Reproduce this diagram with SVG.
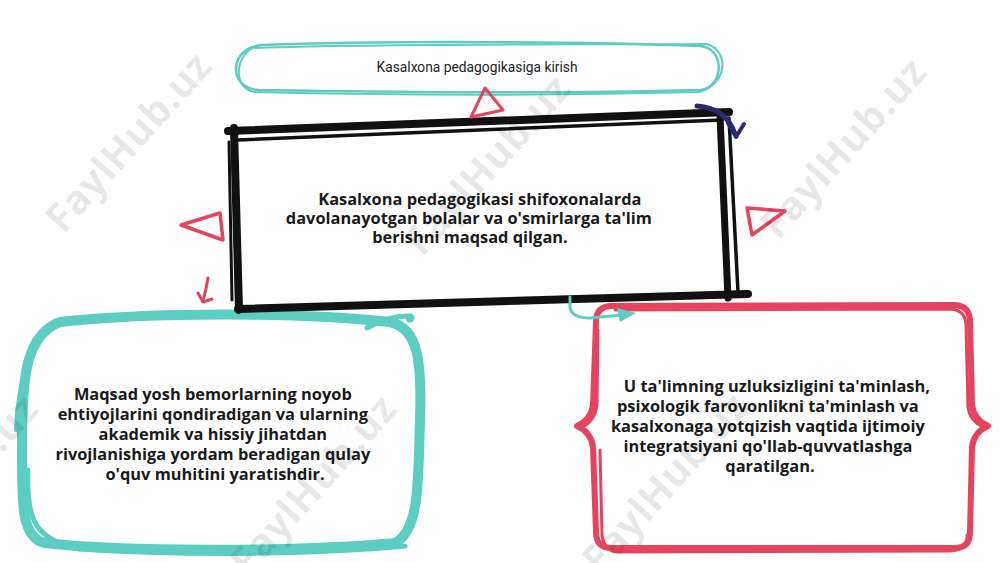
<svg xmlns="http://www.w3.org/2000/svg" width="1000" height="563" viewBox="0 0 1000 563">
<style>
.teal{fill:none;stroke:#5DCDC2;stroke-linecap:round;stroke-linejoin:round}
.red{fill:none;stroke:#E6435F;stroke-linecap:round;stroke-linejoin:round}
.blk{fill:none;stroke:#111;stroke-linecap:round;stroke-linejoin:round}
.navy{fill:none;stroke:#2C2A70;stroke-linecap:round;stroke-linejoin:round}
.body{font-family:"Open Sans","Liberation Sans",sans-serif;font-weight:700;font-size:16.4px;fill:#1a1a1a}
.title{font-family:"Roboto","Liberation Sans",sans-serif;font-size:14px;fill:#222}
.wm{font-family:"Open Sans","Liberation Sans",sans-serif;font-weight:700;font-size:40px;fill:#000;fill-opacity:0.09}
</style>
<rect width="1000" height="563" fill="#fff"/>

<g id="node-left">
<path d="M60,322 C150,312 300,312 390,322 C418,328 422,360 420,420 C418,480 420,530 395,543 C300,552 120,552 45,543 C20,538 22,500 22,440 C22,380 25,335 60,322 Z" fill="#fff" class="teal" stroke-width="10"/>
<path d="M28,470 C26,520 35,540 80,549 C200,557 330,553 405,546" class="teal" stroke-width="5"/>
<path d="M48,330 C30,345 18,380 16,430" class="teal" stroke-width="4"/>
<text class="body" text-anchor="middle">
<tspan x="215" y="400">Maqsad yosh bemorlarning noyob</tspan>
<tspan x="215" y="420">ehtiyojlarini qondiradigan va ularning</tspan>
<tspan x="215" y="440">akademik va hissiy jihatdan</tspan>
<tspan x="215" y="460">rivojlanishiga yordam beradigan qulay</tspan>
<tspan x="215" y="480">o'quv muhitini yaratishdir.</tspan>
</text>
</g>

<g id="node-right">
<path d="M612,306 L955,305 Q970,306 970,322 L972,405 Q974,420 988,426 Q974,432 972,447 L970,532 Q970,548 955,548 L612,548 Q596,548 596,532 L593,447 Q591,432 577,426 Q591,420 593,405 L596,322 Q596,306 612,306 Z" fill="#fff" class="red" stroke-width="6"/>
<path d="M615,310 L952,309 Q966,311 966,326 L968,408 Q970,421 983,427 M598,330 L597,405 Q595,421 582,427 M600,450 L602,535 Q604,552 620,552 L950,551 Q968,550 967,535" class="red" stroke-width="3"/>
<text class="body" text-anchor="middle">
<tspan x="779" y="392">U ta'limning uzluksizligini ta'minlash,</tspan>
<tspan x="770" y="412">psixologik farovonlikni ta'minlash va</tspan>
<tspan x="770" y="432">kasalxonaga yotqizish vaqtida ijtimoiy</tspan>
<tspan x="770" y="452">integratsiyani qo'llab-quvvatlashga</tspan>
<tspan x="770" y="472">qaratilgan.</tspan>
</text>
</g>

<g id="node-top">
<path d="M262,45 C400,40 600,42 700,46 C726,48 724,88 700,90 C550,94 400,92 258,90 C228,88 228,48 262,45 Z" fill="#fff" class="teal" stroke-width="2.5"/>
<path d="M250,48 C420,43 600,45 706,44 C731,50 727,86 698,92 C540,96 380,95 255,92 C232,90 234,52 258,46" class="teal" stroke-width="2"/>
<text class="title" x="477" y="72" text-anchor="middle" textLength="201" lengthAdjust="spacingAndGlyphs">Kasalxona pedagogikasiga kirish</text>
</g>

<g id="node-center">
<path d="M234,134 L724,116 L734,296 L238,308 Z" fill="#fff"/>
<path d="M228,131 L729,112" class="blk" stroke-width="8"/>
<path d="M238,140 L722,120" class="blk" stroke-width="3.5"/>
<path d="M720,116 L728,298" class="blk" stroke-width="7"/>
<path d="M729,118 L738,292" class="blk" stroke-width="3.5"/>
<path d="M238,309 L748,294" class="blk" stroke-width="8"/>
<path d="M234,128 L239,310" class="blk" stroke-width="8"/>
<path d="M229,142 L232,300" class="blk" stroke-width="3"/>
<text class="body" text-anchor="middle">
<tspan x="482" y="205">Kasalxona pedagogikasi shifoxonalarda</tspan>
<tspan x="471" y="224">davolanayotgan bolalar va o'smirlarga ta'lim</tspan>
<tspan x="470" y="243">berishni maqsad qilgan.</tspan>
</text>
</g>

<g id="connectors">
<polygon points="485,88 471,117 503,110" class="red" stroke-width="3"/>
<polygon points="181,225 220,213 223,240" class="red" stroke-width="3.5"/>
<polygon points="747,208 785,211 752,235" class="red" stroke-width="3.5"/>
<path d="M208,278 Q206,290 203,301" class="red" stroke-width="3"/>
<path d="M198,293 L203,302 L212,299" class="red" stroke-width="3"/>
<path d="M697,106 Q726,108 735,134" class="navy" stroke-width="5"/>
<path d="M728,123 L736,137 L744,124" class="navy" stroke-width="4"/>
<path d="M367,328 Q388,316 407,316" class="teal" stroke-width="5"/>
<circle cx="410" cy="318" r="4.5" fill="#5DCDC2"/>
<path d="M570,297 L570,308 Q572,318 590,318 L622,315" class="teal" stroke-width="3"/>
<polygon points="617,308 636,313 620,322" fill="#5DCDC2"/>
</g>

<g id="watermarks">
<text class="wm" transform="translate(128,142) rotate(-48)" text-anchor="middle" textLength="225" y="14">FaylHub.uz</text>
<text class="wm" transform="translate(487,165) rotate(-48)" text-anchor="middle" textLength="225" y="14">FaylHub.uz</text>
<text class="wm" transform="translate(843,148) rotate(-48)" text-anchor="middle" textLength="225" y="14">FaylHub.uz</text>
<text class="wm" transform="translate(-45,485) rotate(-48)" text-anchor="middle" textLength="225" y="14">FaylHub.uz</text>
<text class="wm" transform="translate(313,485) rotate(-48)" text-anchor="middle" textLength="225" y="14">FaylHub.uz</text>
<text class="wm" transform="translate(665,483) rotate(-48)" text-anchor="middle" textLength="225" y="14">FaylHub.uz</text>
</g>
</svg>
